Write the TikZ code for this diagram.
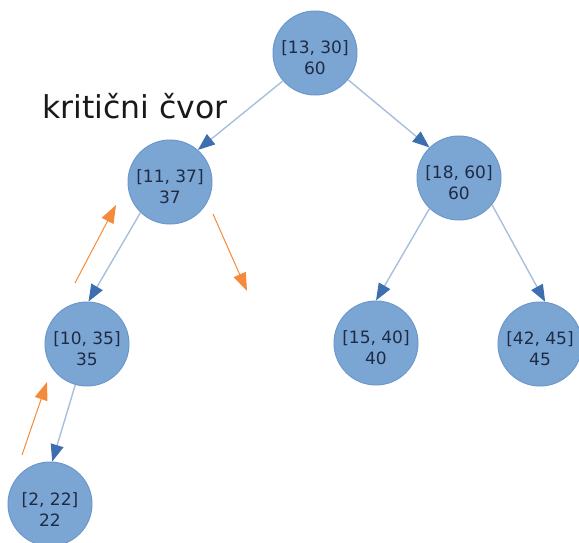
\documentclass[tikz,border=0pt]{standalone}
\usepackage{fontspec}
\setmainfont{DejaVu Sans}
\usetikzlibrary{arrows.meta}
\definecolor{nodefill}{HTML}{7BA6D4}
\definecolor{nodeborder}{HTML}{6B97CB}
\definecolor{nodetext}{HTML}{1E2B45}
\definecolor{edgeline}{HTML}{A9BEDC}
\definecolor{edgetip}{HTML}{3D6EB0}
\definecolor{hlorange}{HTML}{F58A3A}
\newcommand{\ntxt}[2]{\rule{0pt}{23pt}#1\\#2}
\tikzset{
  treenode/.style={circle, fill=nodefill, draw=nodeborder, line width=1pt,
    minimum size=84pt, inner sep=0pt, text=nodetext, align=center,
    font=\fontsize{17}{21}\selectfont},
  treeedge/.style={draw=edgeline, line width=1.4pt,
    -{Triangle[length=17pt,width=13pt,color=edgetip]}},
  hlarrow/.style={draw=hlorange, line width=1pt,
    -{Triangle[length=18pt,width=13pt,color=hlorange]}}
}
\begin{document}
\begin{tikzpicture}[x=1pt,y=-1pt]
\useasboundingbox (0,0) rectangle (579,543);
\node[treenode] (r) at (315,53) {\ntxt{[13, 30]}{60}};
\node[treenode] (a) at (170,182) {\ntxt{[11, 37]}{37}};
\node[treenode] (b) at (459,178) {\ntxt{[18, 60]}{60}};
\node[treenode] (c) at (87,344) {\ntxt{[10, 35]}{35}};
\node[treenode] (d) at (50,504) {\ntxt{[2, 22]}{22}};
\node[treenode] (e) at (376,343) {\ntxt{[15, 40]}{40}};
\node[treenode] (f) at (540,344) {\ntxt{[42, 45]}{45}};
\node[anchor=base west, inner sep=0pt, font=\fontsize{31.5}{36}\selectfont, text=black!90] (lbl) at (42,119) {kritični čvor};
\draw[treeedge] (r.221) -- (a.49);
\draw[treeedge] (r.321) -- (b.134);
\draw[treeedge] (a.226) -- (c.88);
\draw[treeedge] (c.254) -- (d.87);
\draw[treeedge] (b.226) -- (e.90);
\draw[treeedge] (b.321) -- (f.83);
\coordinate (o1s) at (75,283);
\coordinate (o1e) at (116,205);
\coordinate (o2s) at (213,214);
\coordinate (o2e) at (247,291);
\coordinate (o3s) at (22,455);
\coordinate (o3e) at (47,382);
\draw[hlarrow] (o1s) -- (o1e);
\draw[hlarrow] (o2s) -- (o2e);
\draw[hlarrow] (o3s) -- (o3e);
\end{tikzpicture}
\end{document}
